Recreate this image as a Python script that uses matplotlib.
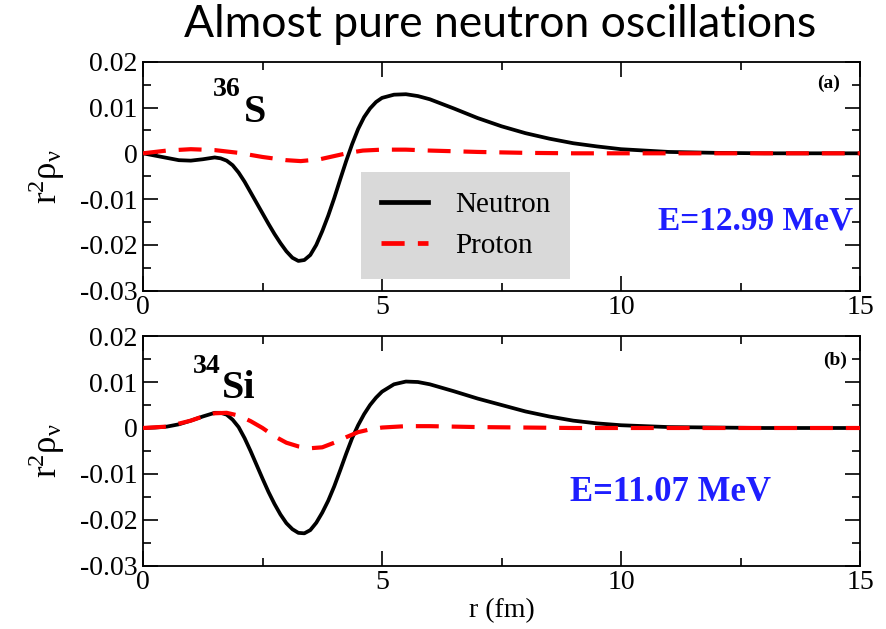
import matplotlib
matplotlib.use("Agg")
import matplotlib.pyplot as plt
from matplotlib.ticker import MultipleLocator, FixedLocator
from matplotlib.lines import Line2D

# ---- data ----
r_n = [0, 0.25, 0.5, 0.75, 1.0, 1.25,
       1.5, 1.625, 1.75, 1.875, 2.0, 2.125, 2.25, 2.375, 2.5, 2.625, 2.75, 2.875,
       3.0, 3.125, 3.25, 3.375, 3.5, 3.625, 3.75, 3.875, 4.0, 4.125, 4.25, 4.375,
       4.5, 4.625, 4.75, 4.875, 5.0,
       5.25, 5.5, 5.75, 6.0, 6.5, 7.0, 7.5, 8.0, 8.5, 9.0, 9.5, 10, 11, 12, 13, 15]
s36_neutron = [0, -0.0005, -0.0010, -0.0015, -0.0016, -0.0013,
               -0.0009, -0.0011, -0.0016, -0.0026, -0.0042, -0.0062, -0.0085, -0.0108,
               -0.0131, -0.0154, -0.0176, -0.0196, -0.0214, -0.0228, -0.0235, -0.0233,
               -0.0222, -0.0200, -0.0170, -0.0136, -0.0098, -0.0057, -0.0017, 0.0020,
               0.0053, 0.0079, 0.0098, 0.0112, 0.0121,
               0.0128, 0.0129, 0.0125, 0.0118, 0.0098, 0.0077, 0.0059, 0.0044, 0.0032,
               0.0022, 0.0015, 0.0009, 0.0003, 0.0001, 0.0, 0.0]
r_p36 = [0, 0.5, 1.0, 1.5, 2.0, 2.5, 3.0, 3.3, 3.7, 4.0, 4.3, 4.6, 5.0, 5.5, 6.0, 7.0,
         8.0, 9.0, 10, 12, 15]
s36_proton = [0, 0.0006, 0.0009, 0.0007, 0.0001, -0.0008, -0.0015, -0.0017, -0.0013,
              -0.0006, 0.0001, 0.0006, 0.0008, 0.0008, 0.0006, 0.0003, 0.0001, 0.0, 0, 0, 0]

si34_neutron = [0, 0.0001, 0.0003, 0.0008, 0.0016, 0.0025,
                0.0033, 0.0033, 0.0029, 0.0018, 0.0002, -0.0022, -0.0050, -0.0080,
                -0.0110, -0.0139, -0.0165, -0.0188, -0.0207, -0.0220, -0.0228, -0.0229,
                -0.0222, -0.0206, -0.0184, -0.0158, -0.0127, -0.0092, -0.0056, -0.0022,
                0.0006, 0.0030, 0.0050, 0.0066, 0.0079,
                0.0095, 0.0101, 0.0100, 0.0095, 0.0080, 0.0064, 0.0050, 0.0036, 0.0025,
                0.0016, 0.0010, 0.0006, 0.0002, 0.0001, 0, 0]
r_p34 = [0, 0.5, 1.0, 1.25, 1.5, 1.75, 2.0, 2.25, 2.5, 2.75, 3.0, 3.25, 3.5, 3.75, 4.0,
         4.25, 4.5, 4.75, 5.0, 5.5, 6.0, 7.0, 8.0, 9.0, 10, 12, 15]
si34_proton = [0, 0.0003, 0.0016, 0.0025, 0.0032, 0.0033, 0.0027, 0.0015, 0.0000, -0.0018,
               -0.0032, -0.0040, -0.0044, -0.0042, -0.0032, -0.0020, -0.0009, -0.0003,
               0.0001, 0.0004, 0.0004, 0.0002, 0.0001, 0, 0, 0, 0]

x_ticks = [0, 5, 10, 15]
x_ticklabels = ["0", "5", "10", "15"]
y_ticks = [-0.03, -0.02, -0.01, 0, 0.01, 0.02]
y_ticklabels = ["-0.03", "-0.02", "-0.01", "0", "0.01", "0.02"]

serif = ["Liberation Serif", "DejaVu Serif"]
blue = "#1e1eff"
red = "#ff0000"
RED_DASH = (5.5, 3.1)

fig = plt.figure(figsize=(8.86, 6.29), dpi=100)
ax1 = fig.add_axes([0.1614, 0.5378, 0.8093, 0.3641])
ax2 = fig.add_axes([0.1614, 0.1002, 0.8093, 0.3656])

panels = [
    (ax1, s36_neutron, r_p36, s36_proton),
    (ax2, si34_neutron, r_p34, si34_proton),
]

for ax, neu, rp, pro in panels:
    ax.plot(r_n, neu, color="black", lw=2.7, solid_joinstyle="round", zorder=3)
    ax.plot(rp, pro, color=red, lw=3.0, dashes=RED_DASH, zorder=4)
    ax.set_xlim(0, 15)
    ax.set_ylim(-0.03, 0.02)
    ax.xaxis.set_major_locator(FixedLocator(x_ticks))
    ax.set_xticklabels(x_ticklabels)
    ax.xaxis.set_minor_locator(MultipleLocator(2.5))
    ax.set_yticks(y_ticks)
    ax.set_yticklabels(y_ticklabels)
    ax.yaxis.set_minor_locator(MultipleLocator(0.005))
    ax.tick_params(which="both", direction="in", top=True, right=True, width=1.2,
                   labelsize=20, colors="black")
    ax.tick_params(which="major", length=10.5)
    ax.tick_params(which="minor", length=5.5)
    ax.tick_params(axis="y", pad=4)
    ax.tick_params(axis="x", pad=3)
    for lab in ax.get_xticklabels() + ax.get_yticklabels():
        lab.set_family(serif)
    for sp in ax.spines.values():
        sp.set_linewidth(1.3)
    ax.set_ylabel(r"$\mathregular{r^{2}\rho_{\nu}}$", fontsize=25, family=serif)
    ax.yaxis.set_label_coords(-0.1065, 0.5)

ax2.set_xlabel("r (fm)", fontsize=20, family=serif, labelpad=2)

# panel tags
fig.text(840 / 886, 1 - 75 / 629, "(a)", fontsize=14, fontweight="bold", family=serif,
         ha="right", va="top")
fig.text(847 / 886, 1 - 352 / 629, "(b)", fontsize=14, fontweight="bold", family=serif,
         ha="right", va="top")

# nucleus labels
fig.text(213 / 886, 1 - 96 / 629, "36", fontsize=20, fontweight="bold", family=serif,
         ha="left", va="baseline")
fig.text(244 / 886, 1 - 122 / 629, "S", fontsize=29, fontweight="bold", family=serif,
         ha="left", va="baseline")
fig.text(193 / 886, 1 - 373 / 629, "34", fontsize=20, fontweight="bold", family=serif,
         ha="left", va="baseline")
fig.text(222 / 886, 1 - 398 / 629, "Si", fontsize=29, fontweight="bold", family=serif,
         ha="left", va="baseline")

# energies
fig.text(853 / 886, 1 - 229 / 629, "E=12.99 MeV", fontsize=24, fontweight="bold",
         family=serif, color=blue, ha="right", va="baseline")
fig.text(570 / 886, 1 - 501 / 629, "E=11.07 MeV", fontsize=25, fontweight="bold",
         family=serif, color=blue, ha="left", va="baseline")

# legend
handles = [Line2D([], [], color="black", lw=3.4),
           Line2D([], [], color=red, lw=3.4, dashes=(4.9, 2.8))]
leg = ax1.legend(handles, ["Neutron", "Proton"], loc="upper left",
                 bbox_to_anchor=(361 / 886, 1 - 172 / 629), bbox_transform=fig.transFigure,
                 prop={"family": serif, "size": 21}, frameon=True, fancybox=False,
                 facecolor="#d9d9d9", edgecolor="none", framealpha=1,
                 handlelength=1.6, handletextpad=0.95, borderpad=0.68, labelspacing=0.5,
                 borderaxespad=0)
leg.set_zorder(2)

fig.text(500 / 886, 1 - 37 / 629, "Almost pure neutron oscillations", fontsize=32,
         family=["Lato", "DejaVu Sans"], ha="center", va="baseline")

fig.savefig("out.png", dpi=100)
